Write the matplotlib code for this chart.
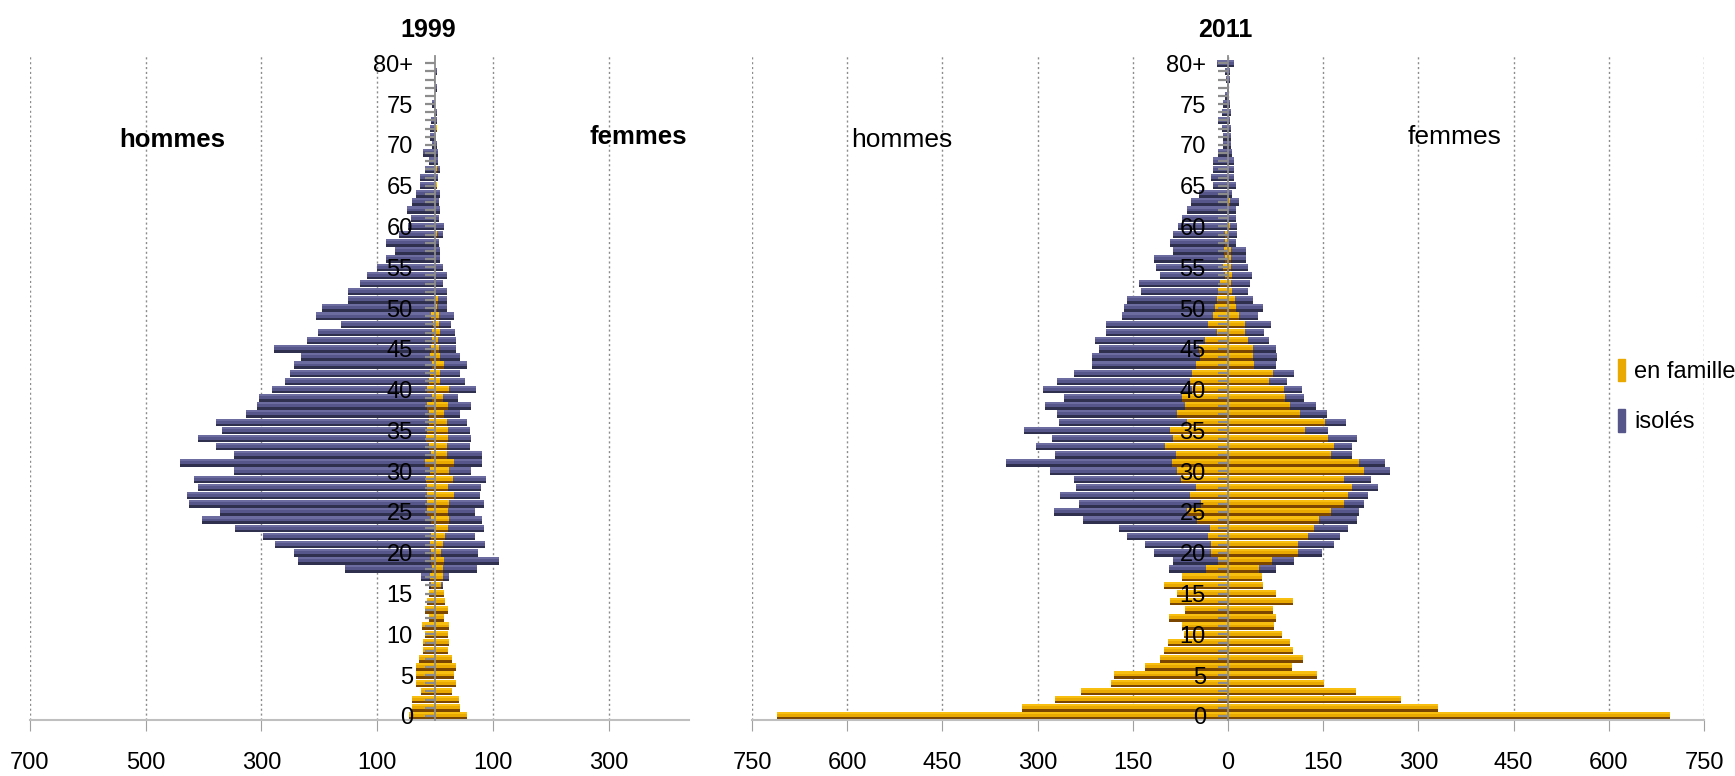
import numpy as np
from matplotlib import pyplot as plt
from matplotlib.patches import Patch

plt.rcParams['font.family'] = ['Liberation Sans', 'DejaVu Sans']

# ages 0 .. 80+ (81 classes)
ages = np.arange(81)
age_labels = [str(a) if a % 5 == 0 else '' for a in ages]
age_labels[80] = '80+'

# 1999 : hommes / femmes, en famille et isolés
h99_fam = [45, 40, 40, 25, 33, 32, 32, 27, 21, 21, 18, 23, 11, 18, 14, 11, 7, 9, 6, 7,
           7, 9, 7, 2, 7, 13, 14, 14, 14, 16, 9, 18, 7, 11, 16, 14, 11, 11, 14, 6,
           14, 11, 9, 6, 8, 7, 6, 5, 3, 7, 0, 0, 0, 0, 0, 0, 0, 0, 0, 0,
           0, 0, 0, 0, 0, 0, 0, 0, 0, 0, 0, 0, 0, 0, 0, 0, 0, 0, 0, 0, 0]
h99_tot = [45, 40, 40, 25, 33, 32, 32, 27, 21, 21, 18, 23, 11, 18, 14, 11, 11, 25, 156, 236,
           244, 276, 298, 346, 402, 372, 426, 429, 409, 417, 348, 440, 348, 378, 409, 369, 379, 327, 307, 305,
           282, 260, 251, 243, 231, 278, 222, 203, 163, 205, 195, 151, 150, 129, 117, 101, 85, 69, 85, 62,
           46, 42, 49, 40, 32, 26, 26, 17, 11, 21, 6, 9, 9, 7, 2, 5, 0, 0, 2, 0, 0]
f99_fam = [55, 44, 41, 29, 37, 32, 36, 29, 22, 24, 22, 24, 15, 22, 17, 15, 10, 13, 13, 15,
           10, 13, 17, 22, 25, 22, 24, 32, 22, 31, 25, 32, 20, 20, 22, 22, 20, 15, 22, 13,
           25, 9, 9, 16, 9, 7, 6, 9, 7, 7, 4, 6, 0, 0, 0, 0, 0, 0, 0, 4,
           0, 0, 0, 0, 0, 4, 0, 4, 0, 0, 0, 0, 4, 0, 0, 0, 0, 0, 0, 0, 0]
f99_tot = [55, 44, 41, 29, 37, 32, 36, 29, 22, 24, 22, 24, 15, 22, 17, 15, 13, 24, 72, 110,
           75, 86, 69, 84, 81, 69, 84, 77, 79, 88, 63, 81, 81, 60, 62, 60, 55, 44, 63, 40,
           70, 51, 44, 55, 44, 37, 37, 35, 28, 32, 20, 21, 20, 14, 20, 14, 9, 9, 7, 14,
           16, 7, 9, 7, 9, 4, 6, 9, 6, 6, 4, 1, 4, 4, 4, 0, 0, 4, 0, 4, 0]

# 2011
h11_fam = [711, 324, 273, 231, 184, 180, 130, 107, 101, 95, 70, 73, 93, 68, 92, 81, 101, 73, 35, 15,
           27, 27, 31, 29, 49, 65, 43, 60, 51, 74, 80, 88, 82, 100, 87, 92, 65, 81, 67, 73,
           57, 60, 57, 51, 44, 46, 37, 17, 31, 24, 21, 17, 15, 13, 4, 8, 4, 7, 4, 4,
           0, 0, 0, 0, 0, 0, 0, 0, 0, 0, 0, 0, 0, 0, 0, 0, 0, 0, 0, 0, 0]
h11_tot = [711, 324, 273, 231, 184, 180, 130, 107, 101, 95, 70, 73, 93, 68, 92, 81, 101, 73, 93, 86,
           117, 131, 159, 172, 229, 274, 234, 264, 239, 243, 281, 350, 272, 302, 278, 321, 266, 270, 288, 258,
           292, 270, 242, 214, 215, 203, 209, 192, 192, 167, 164, 159, 137, 141, 107, 114, 117, 87, 92, 87,
           79, 72, 65, 59, 46, 24, 27, 23, 24, 16, 8, 8, 10, 16, 10, 8, 5, 2, 3, 4, 17]
f11_fam = [696, 331, 272, 201, 152, 140, 101, 118, 103, 97, 85, 73, 75, 71, 103, 76, 55, 54, 49, 70,
           110, 110, 126, 135, 143, 162, 182, 189, 196, 182, 214, 206, 162, 167, 157, 121, 153, 114, 98, 90,
           88, 64, 71, 41, 40, 40, 31, 26, 27, 17, 13, 11, 7, 5, 7, 5, 5, 5, 0, 0,
           3, 0, 0, 3, 0, 0, 0, 0, 0, 0, 0, 0, 0, 0, 0, 0, 0, 0, 0, 0, 0]
f11_tot = [696, 331, 272, 201, 152, 140, 101, 118, 103, 97, 85, 73, 75, 71, 103, 76, 55, 54, 76, 104,
           148, 167, 176, 189, 203, 206, 214, 220, 236, 225, 255, 247, 195, 196, 204, 157, 186, 156, 139, 120,
           116, 93, 104, 76, 77, 76, 64, 57, 68, 47, 55, 40, 31, 34, 38, 31, 28, 28, 13, 14,
           14, 13, 12, 17, 7, 12, 9, 9, 9, 7, 5, 5, 5, 3, 5, 3, 1, 2, 3, 3, 9]

ORANGE = ('#E9A900', '#7A4600', '#F8BE10')
BLEU = ('#56568A', '#2F2F4E', '#6C6CA0')


def barre(ax, left, width, couleurs):
    base, fonce, clair = couleurs
    ax.barh(ages, width, left=left, height=0.92, color=base, lw=0, zorder=1)
    ax.barh(ages - 0.31, width, left=left, height=0.30, color=fonce, lw=0, zorder=1)
    ax.barh(ages + 0.33, width, left=left, height=0.26, color=clair, lw=0, zorder=1)


def pyramide(ax, h_fam, h_tot, f_fam, f_tot, xlim, xticks):
    h_fam = np.array(h_fam)
    h_iso = np.array(h_tot) - h_fam
    f_fam = np.array(f_fam)
    f_iso = np.array(f_tot) - f_fam
    barre(ax, 0, -h_fam, ORANGE)
    barre(ax, -h_fam, -h_iso, BLEU)
    barre(ax, 0, f_fam, ORANGE)
    barre(ax, f_fam, f_iso, BLEU)

    ax.set_xlim(*xlim)
    ax.set_ylim(-0.5, 80.9)
    ax.set_xticks(xticks)
    ax.set_xticklabels([str(abs(t)) for t in xticks])
    ax.set_yticks(ages)
    ax.set_yticklabels(age_labels)

    for s in ['top', 'right']:
        ax.spines[s].set_visible(False)
    ax.spines['left'].set_position(('data', 0))
    ax.spines['left'].set_color('#8C8C8C')
    ax.spines['left'].set_linewidth(1.3)
    ax.spines['left'].set_zorder(3)
    ax.spines['bottom'].set_color('#BFBFBF')
    ax.spines['bottom'].set_linewidth(1.5)

    ax.grid(axis='x', linestyle=(0, (1.5, 2)), color='#8C8C8C', lw=1)
    ax.xaxis.set_zorder(0.5)
    ax.yaxis.set_zorder(3)
    ax.tick_params(axis='x', length=8, color='#A0A0A0', pad=15, labelsize=17)
    ax.tick_params(axis='y', length=7, width=1.6, color='#8C8C8C', pad=9, labelsize=17)


fig = plt.figure(figsize=(17.35, 7.76), dpi=100)
ax1 = fig.add_axes([30 / 1735, 56 / 776, 659 / 1735, 664 / 776])
ax2 = fig.add_axes([752 / 1735, 56 / 776, 952 / 1735, 664 / 776])

pyramide(ax1, h99_fam, h99_tot, f99_fam, f99_tot, (-700, 439), [-700, -500, -300, -100, 100, 300])
pyramide(ax2, h11_fam, h11_tot, f11_fam, f11_tot, (-750, 750), list(range(-750, 751, 150)))

fig.text(428 / 1735, 1 - 30 / 776, '1999', ha='center', va='center', fontsize=18, fontweight='bold')
fig.text(1225 / 1735, 1 - 30 / 776, '2011', ha='center', va='center', fontsize=18, fontweight='bold')
fig.text(172 / 1735, 1 - 140 / 776, 'hommes', ha='center', va='center', fontsize=18.5, fontweight='bold')
fig.text(638 / 1735, 1 - 137 / 776, 'femmes', ha='center', va='center', fontsize=18.5, fontweight='bold')
fig.text(902 / 1735, 1 - 140 / 776, 'hommes', ha='center', va='center', fontsize=19)
fig.text(1455 / 1735, 1 - 137 / 776, 'femmes', ha='center', va='center', fontsize=19)

poignees = [Patch(color=ORANGE[0], label='en famille'), Patch(color=BLEU[0], label='isolés')]
fig.legend(handles=poignees, loc='upper left', bbox_to_anchor=(1606 / 1735, 1 - 347 / 776),
           frameon=False, fontsize=17, handlelength=0.3, handleheight=1.1,
           handletextpad=0.4, labelspacing=1.1, borderpad=0)

fig.savefig('out.png', dpi=100)
